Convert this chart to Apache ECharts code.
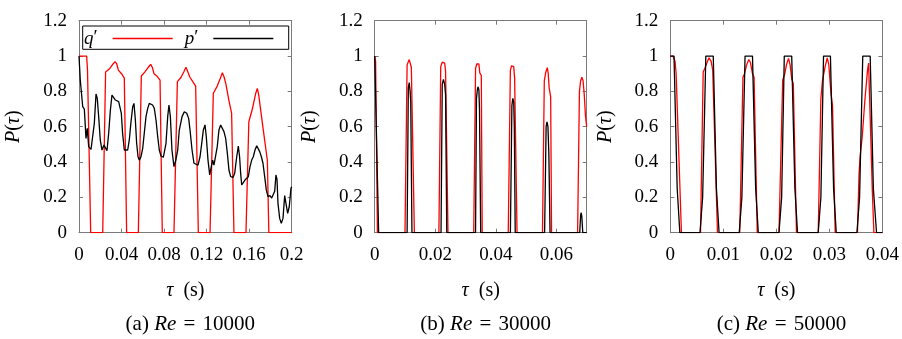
<!DOCTYPE html>
<html>
<head>
<meta charset="utf-8">
<script src="https://cdn.jsdelivr.net/npm/echarts@6/dist/echarts.min.js"></script>
<style>
  html, body { margin: 0; padding: 0; background: #fff; }
  #chart { width: 902px; height: 339px; }
</style>
</head>
<body>
<div id="chart"></div>
<script>
// ---- (a) Re = 10000 ----
const aTauQ = [0, 0.0072, 0.0080, 0.0095, 0.0110, 0.0223, 0.0250, 0.0290, 0.0320, 0.0339, 0.0355, 0.0370, 0.0400, 0.0426, 0.0448,
  0.0558, 0.0586, 0.0620, 0.0650, 0.0674, 0.0690, 0.0705, 0.0735, 0.0762, 0.0783,
  0.0893, 0.0925, 0.0960, 0.0985, 0.1006, 0.1020, 0.1043, 0.1070, 0.1097, 0.1122,
  0.1232, 0.1263, 0.1300, 0.1330, 0.1348, 0.1365, 0.1380, 0.1409, 0.1435, 0.1457,
  0.1570, 0.1597, 0.1630, 0.1660, 0.1677, 0.1690, 0.1700, 0.1733, 0.1771, 0.1785, 0.2000];
const aQ = [1, 1, 0.92, 0.92, 0, 0, 0.91, 0.93, 0.955, 0.968, 0.955, 0.92, 0.90, 0.875, 0,
  0, 0.887, 0.91, 0.935, 0.953, 0.935, 0.90, 0.885, 0.864, 0,
  0, 0.855, 0.88, 0.91, 0.936, 0.915, 0.88, 0.855, 0.83, 0,
  0, 0.789, 0.83, 0.875, 0.906, 0.88, 0.845, 0.751, 0.676, 0,
  0, 0.628, 0.70, 0.785, 0.817, 0.78, 0.732, 0.581, 0.41, 0, 0];

const aTauP = [0, 0.0012, 0.0022, 0.0035, 0.0050, 0.0066, 0.0078, 0.0091, 0.0113, 0.0129, 0.0144, 0.0160, 0.0172, 0.0185,
  0.0200, 0.0216, 0.0235, 0.0248, 0.0263, 0.0279, 0.0295, 0.0310, 0.0326, 0.0342, 0.0357, 0.0373, 0.0386, 0.0398,
  0.0410, 0.0426, 0.0442, 0.0458, 0.0473, 0.0489, 0.0505, 0.0517, 0.0530, 0.0542, 0.0555, 0.0567, 0.0583, 0.0599,
  0.0614, 0.0630, 0.0646, 0.0661, 0.0677, 0.0692, 0.0708, 0.0724, 0.0740, 0.0755, 0.0771, 0.0793, 0.0805, 0.0818,
  0.0834, 0.0846, 0.0859, 0.0874, 0.0893, 0.0910, 0.0928, 0.0943, 0.0969, 0.0990, 0.1013, 0.1031, 0.1044, 0.1063,
  0.1081, 0.1097, 0.1119, 0.1138, 0.1154, 0.1169, 0.1185, 0.1197, 0.1213, 0.1229, 0.1244, 0.1257, 0.1269, 0.1285,
  0.1300, 0.1316, 0.1332, 0.1348, 0.1363, 0.1379, 0.1395, 0.1410, 0.1426, 0.1448, 0.1464, 0.1483, 0.1498, 0.1510,
  0.1520, 0.1530, 0.1545, 0.1560, 0.1576, 0.1592, 0.1608, 0.1624, 0.1639, 0.1655, 0.1671, 0.1683, 0.1699, 0.1715,
  0.1730, 0.1746, 0.1761, 0.1777, 0.1796, 0.1812, 0.1827, 0.1840, 0.1852, 0.1862, 0.1871, 0.1887, 0.1902, 0.1918,
  0.1934, 0.1946, 0.1962, 0.1977, 0.1993, 0.2000];
const aP = [1.0, 0.864, 0.798, 0.713, 0.70, 0.534, 0.591, 0.487, 0.472, 0.478, 0.619, 0.785, 0.76, 0.657,
  0.525, 0.468, 0.496, 0.496, 0.464, 0.562, 0.694, 0.779, 0.77, 0.751, 0.755, 0.742, 0.751, 0.676,
  0.562, 0.468, 0.459, 0.468, 0.525, 0.628, 0.713, 0.732, 0.638, 0.506, 0.43, 0.411, 0.43, 0.478,
  0.487, 0.657, 0.704, 0.732, 0.736, 0.723, 0.704, 0.638, 0.543, 0.468, 0.434, 0.427, 0.434, 0.506,
  0.657, 0.723, 0.657, 0.468, 0.374, 0.41, 0.468, 0.581, 0.657, 0.685, 0.676, 0.647, 0.581, 0.468,
  0.393, 0.383, 0.383, 0.43, 0.506, 0.581, 0.61, 0.543, 0.411, 0.327, 0.374, 0.411, 0.383, 0.393,
  0.487, 0.581, 0.61, 0.60, 0.572, 0.534, 0.449, 0.355, 0.317, 0.313, 0.336, 0.43, 0.49, 0.43,
  0.336, 0.27, 0.26, 0.298, 0.289, 0.317, 0.374, 0.411, 0.43, 0.468, 0.492, 0.483, 0.459, 0.43,
  0.393, 0.317, 0.242, 0.204, 0.21, 0.196, 0.196, 0.234, 0.327, 0.30, 0.166, 0.081, 0.053, 0.081,
  0.21, 0.166, 0.11, 0.147, 0.251, 0.26];

// ---- (b) Re = 30000 ----
const bTauQ = [0, 0.0003, 0.0009,
  0.0100, 0.0107, 0.0114, 0.0118, 0.0121, 0.0127, 0.0131,
  0.0212, 0.0218, 0.0223, 0.0227, 0.0231, 0.0234, 0.0239, 0.0242,
  0.0327, 0.0333, 0.0337, 0.0340, 0.0344, 0.0347, 0.0352, 0.0355,
  0.0441, 0.0448, 0.0452, 0.0456, 0.0459, 0.0462, 0.0467, 0.0470,
  0.0554, 0.0560, 0.0565, 0.0570, 0.0573, 0.0576, 0.0581, 0.0584,
  0.0670, 0.0676, 0.0680, 0.0684, 0.0688, 0.0692, 0.0696, 0.0700];
const bQ = [1, 0.97, 0,
  0, 0.95, 0.98, 0.97, 0.935, 0.925, 0,
  0, 0.94, 0.965, 0.974, 0.96, 0.915, 0.905, 0,
  0, 0.93, 0.955, 0.964, 0.955, 0.905, 0.89, 0,
  0, 0.92, 0.945, 0.955, 0.94, 0.875, 0.864, 0,
  0, 0.86, 0.91, 0.934, 0.90, 0.82, 0.77, 0,
  0, 0.80, 0.86, 0.88, 0.86, 0.78, 0.66, 0.60];

const bTauP = [0, 0.0013,
  0.0107, 0.0111, 0.0114, 0.0117, 0.0119, 0.0123,
  0.0219, 0.0223, 0.0227, 0.0231, 0.0234, 0.0238,
  0.0333, 0.0336, 0.0339, 0.0341, 0.0344, 0.0346, 0.0350,
  0.0448, 0.0453, 0.0456, 0.0459, 0.0461, 0.0464,
  0.0561, 0.0566, 0.0569, 0.0572, 0.0575, 0.0579,
  0.0677, 0.0680, 0.0682, 0.0684, 0.0687, 0.0700];
const bP = [1, 0,
  0, 0.82, 0.85, 0.80, 0.74, 0,
  0, 0.84, 0.868, 0.84, 0.78, 0,
  0, 0.76, 0.81, 0.826, 0.81, 0.70, 0,
  0, 0.72, 0.76, 0.74, 0.60, 0,
  0, 0.60, 0.628, 0.60, 0.45, 0,
  0, 0.10, 0.113, 0.09, 0, 0];

// ---- (c) Re = 50000 ----
const cTauQ = [0, 0.0005, 0.0009, 0.0011, 0.0021,
  0.0057, 0.0062, 0.0065, 0.0069, 0.0073, 0.0077, 0.0080, 0.0083, 0.0089,
  0.0131, 0.0137, 0.0140, 0.0144, 0.0148, 0.0151, 0.0155, 0.0158, 0.0164,
  0.0205, 0.0212, 0.0216, 0.0219, 0.0223, 0.0226, 0.0229, 0.0232, 0.0238,
  0.0279, 0.0284, 0.0287, 0.0292, 0.0296, 0.0299, 0.0303, 0.0306, 0.0311,
  0.0353, 0.0356, 0.0358, 0.0362, 0.0367, 0.0372, 0.0374, 0.0377, 0.0381, 0.0384, 0.0400];
const cQ = [1, 1, 0.97, 0.90, 0,
  0, 0.91, 0.93, 0.96, 0.99, 0.97, 0.92, 0.91, 0,
  0, 0.88, 0.90, 0.95, 0.98, 0.965, 0.90, 0.88, 0,
  0, 0.864, 0.90, 0.95, 0.987, 0.95, 0.87, 0.845, 0,
  0, 0.76, 0.86, 0.94, 0.99, 0.95, 0.789, 0.72, 0,
  0, 0.336, 0.43, 0.543, 0.75, 0.92, 0.96, 0.657, 0.24, 0, 0];

const cTauP = [0, 0.0007, 0.0013, 0.0018,
  0.0056, 0.0061, 0.0067, 0.0081, 0.0087, 0.0092,
  0.0130, 0.0135, 0.0141, 0.0155, 0.0161, 0.0166,
  0.0205, 0.0210, 0.0215, 0.0229, 0.0235, 0.0240,
  0.0279, 0.0284, 0.0289, 0.0302, 0.0308, 0.0313,
  0.0352, 0.0357, 0.0363, 0.0377, 0.0383, 0.0389, 0.0400];
const cP = [1, 1, 0.25, 0,
  0, 0.2, 1, 1, 0.25, 0,
  0, 0.2, 1, 1, 0.25, 0,
  0, 0.2, 1, 1, 0.25, 0,
  0, 0.2, 1, 1, 0.25, 0,
  0, 0.2, 1, 1, 0.25, 0, 0];

// axis ranges and captions of the three panels
const xMax = [0.2, 0.07, 0.04];
const xStep = [0.04, 0.02, 0.01];
const yTicks = { min: 0, max: 1.2, step: 0.2 };
const captions = [['(a) ', 'Re', '10000'], ['(b) ', 'Re', '30000'], ['(c) ', 'Re', '50000']];
const seriesNames = ['q′', 'p′'];

const FONT = '"Liberation Serif", serif';
const FS = 19;      // tick labels, legend
const FS_NAME = 20; // axis titles
const FS_CAP = 21;  // panel captions
const GRAY = '#7a7a7a';
const RED = '#ff0000';

const pairs = (xs, ys) => xs.map((x, i) => [x, ys[i]]);

const grids = [
  { left: 79, top: 20.7, width: 212.7, height: 212 },
  { left: 374.7, top: 20.7, width: 212, height: 212 },
  { left: 670.3, top: 20.7, width: 212.4, height: 212 }
];

const makeRich = size => ({
  it: { fontFamily: FONT, fontSize: size, fontStyle: 'italic', color: '#000' },
  up: { fontFamily: FONT, fontSize: size, color: '#000' },
  eq: { fontFamily: FONT, fontSize: size, color: '#000', padding: [0, 2, 0, 2] }
});

const frameLine = { show: true, onZero: false, lineStyle: { color: GRAY, width: 1 } };
const innerTick = { show: true, inside: true, length: 4, lineStyle: { color: GRAY, width: 1 } };

const xAxes = [];
const yAxes = [];
grids.forEach((g, i) => {
  xAxes.push({
    type: 'value', gridIndex: i, position: 'bottom',
    min: 0, max: xMax[i], interval: xStep[i],
    axisLine: frameLine, axisTick: innerTick, splitLine: { show: false },
    axisLabel: { fontFamily: FONT, fontSize: FS, color: '#000', margin: 13, showMaxLabel: i !== 1 },
    name: '{it|τ}{up|  (s)}', nameLocation: 'middle', nameGap: 48,
    nameTextStyle: { fontFamily: FONT, fontSize: FS_NAME, color: '#000', rich: makeRich(FS_NAME) }
  });
  xAxes.push({
    type: 'value', gridIndex: i, position: 'top',
    min: 0, max: xMax[i], interval: xStep[i],
    axisLine: frameLine, axisTick: innerTick, splitLine: { show: false },
    axisLabel: { show: false }
  });
  yAxes.push({
    type: 'value', gridIndex: i, position: 'left',
    min: yTicks.min, max: yTicks.max, interval: yTicks.step,
    axisLine: frameLine, axisTick: innerTick, splitLine: { show: false },
    axisLabel: { fontFamily: FONT, fontSize: FS, color: '#000', margin: 12 },
    name: '{it|P}{up|(}{it|τ}{up|)}', nameLocation: 'middle', nameGap: 55,
    nameTextStyle: { fontFamily: FONT, fontSize: FS_NAME, color: '#000', rich: makeRich(FS_NAME) }
  });
  yAxes.push({
    type: 'value', gridIndex: i, position: 'right',
    min: yTicks.min, max: yTicks.max, interval: yTicks.step,
    axisLine: frameLine, axisTick: innerTick, splitLine: { show: false },
    axisLabel: { show: false }
  });
});

const panelData = [
  [pairs(aTauQ, aQ), pairs(aTauP, aP)],
  [pairs(bTauQ, bQ), pairs(bTauP, bP)],
  [pairs(cTauQ, cQ), pairs(cTauP, cP)]
];

const series = [];
panelData.forEach((d, i) => {
  series.push({
    name: seriesNames[0], type: 'line', xAxisIndex: 2 * i, yAxisIndex: 2 * i,
    data: d[0], symbol: 'none', animation: false, z: 2,
    lineStyle: { color: RED, width: 1.3 }, itemStyle: { color: RED }
  });
  series.push({
    name: seriesNames[1], type: 'line', xAxisIndex: 2 * i, yAxisIndex: 2 * i,
    data: d[1], symbol: 'none', animation: false, z: 3,
    lineStyle: { color: '#000', width: 1.3 }, itemStyle: { color: '#000' }
  });
});

const titles = grids.map((g, i) => ({
  text: '{up|' + captions[i][0] + '}{it|' + captions[i][1] + '}{eq| = }{up|' + captions[i][2] + '}',
  left: g.left + g.width / 2, top: 309, textAlign: 'center',
  textStyle: { fontFamily: FONT, fontSize: FS_CAP, fontWeight: 'normal', color: '#000', rich: makeRich(FS_CAP) }
}));

const chart = echarts.init(document.getElementById('chart'), null, { renderer: 'canvas' });
chart.setOption({
  animation: false,
  backgroundColor: '#fff',
  grid: grids,
  xAxis: xAxes,
  yAxis: yAxes,
  title: titles,
  legend: {
    data: seriesNames,
    left: 84, top: 29,
    orient: 'horizontal',
    align: 'right',
    icon: 'path://M0,0H60V1.4H0Z',
    itemWidth: 60, itemHeight: 1.4, itemGap: 12,
    padding: 0,
    selectedMode: false,
    formatter: n => '{it|' + n[0] + '}{up|' + n.slice(1) + '}{gap|}',
    textStyle: {
      fontFamily: FONT, fontSize: FS, color: '#000',
      rich: Object.assign({ gap: { width: 10 } }, makeRich(FS))
    }
  },
  graphic: [{
    type: 'rect', z: -1,
    shape: { x: 82.7, y: 26, width: 206, height: 23.3 },
    style: { fill: '#fff', stroke: '#000', lineWidth: 1 }
  }],
  series
});
</script>
</body>
</html>
